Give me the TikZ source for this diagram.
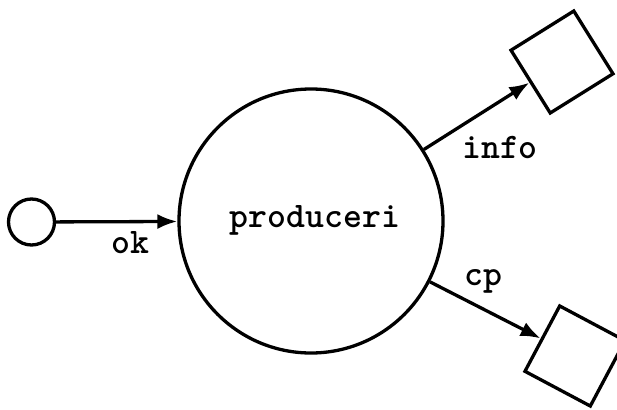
\documentclass[tikz,border=0pt]{standalone}
\usepackage{fontspec}
\usetikzlibrary{arrows.meta}
\begin{document}
\begin{tikzpicture}[x=1pt,y=-1pt,
  line width=3.3pt,
  proc/.style={circle,draw,inner sep=0pt},
  store/.style={rectangle,draw,minimum size=74pt,inner sep=0pt},
  lbl/.style={font=\ttfamily\bfseries\fontsize{36}{36}\selectfont,anchor=base,inner sep=0pt},
  flow/.style={-{Latex[length=20pt,width=15pt]}}]
\useasboundingbox (0,0) rectangle (617,409);
\clip (0,0) rectangle (617,409);
\fill[white] (0,0) rectangle (617,409);
\node[proc,minimum size=264pt] (P) at (311,221) {};
\node[proc,minimum size=46pt] (S) at (31.5,222) {};
\node[store,rotate=32] (U) at (562,62) {};
\node[store,rotate=-28] (L) at (575,356) {};
\node[lbl] (tp) at (315,227) {produceri};
\draw[flow] (S) -- (P);
\draw[flow] (P) -- (U);
\draw[flow] (P) -- (L);
\node[lbl] (tok) at (130,253) {ok};
\node[lbl] (tinfo) at (500,158) {info};
\node[lbl] (tcp) at (483.5,285) {cp};
\end{tikzpicture}
\end{document}
